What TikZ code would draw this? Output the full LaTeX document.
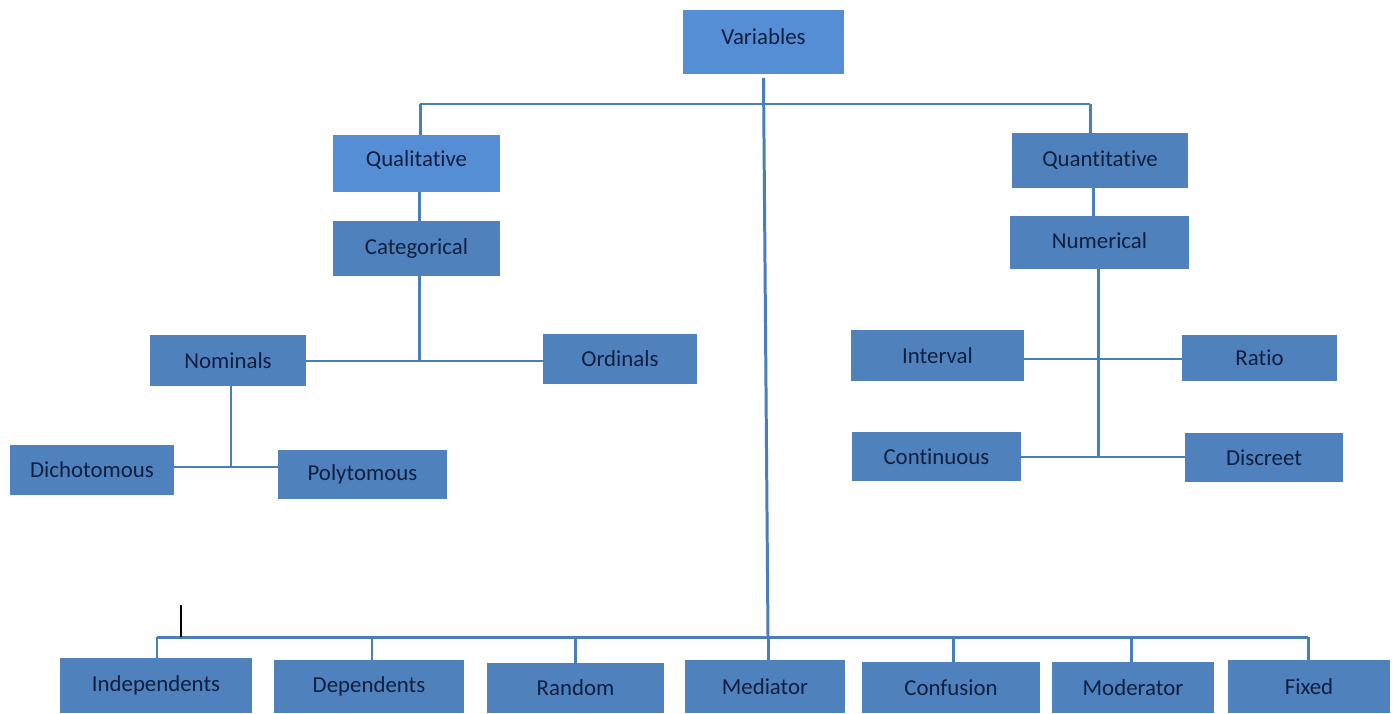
\documentclass[tikz,border=0pt]{standalone}
\usepackage{fontspec}
\setmainfont[Ligatures={NoCommon}]{Carlito}
\definecolor{boxblue}{HTML}{4F81BD}
\definecolor{lightblue}{HTML}{558ED5}
\definecolor{linecol}{HTML}{4A7EBB}
\definecolor{navy}{HTML}{0F1F3F}
\tikzset{
  box/.style={fill=boxblue, inner sep=0pt, text=navy, font=\fontsize{13}{15}\selectfont},
  lbox/.style={box, fill=lightblue},
  conn/.style={draw=linecol, line width=1.7pt},
}
\newcommand\bx[7]{\node[#7, minimum width={(#4-#2)*0.02cm}, minimum height={(#5-#3)*0.02cm}] (#1) at ({(#2+#4)/2},{(#3+#5)/2}) {#6};}
\begin{document}
\begin{tikzpicture}[x=0.02cm,y=-0.02cm]
\useasboundingbox[fill=white] (0,0) rectangle (1395,713);
% nodes
\bx{var}{683}{10}{844}{74}{\raisebox{0.22cm}{Variables}}{lbox}
\bx{qual}{333}{135}{500}{192}{\raisebox{0.18cm}{Qualitative}}{lbox}
\bx{quan}{1012}{133}{1188}{188}{\raisebox{0.08cm}{Quantitative}}{box}
\bx{cat}{333}{221}{500}{276}{\raisebox{0.08cm}{Categorical}}{box}
\bx{num}{1010}{216}{1189}{269}{\raisebox{0.06cm}{Numerical}}{box}
\bx{nom}{150}{335}{306}{386}{Nominals}{box}
\bx{ord}{543}{334}{697}{384}{Ordinals}{box}
\bx{dich}{10}{445}{174}{495}{Dichotomous}{box}
\bx{poly}{278}{450}{447}{499}{Polytomous}{box}
\bx{int}{851}{330}{1024}{381}{Interval}{box}
\bx{ratio}{1182}{335}{1337}{381}{\raisebox{-0.06cm}{Ratio}}{box}
\bx{cont}{852}{432}{1021}{481}{Continuous}{box}
\bx{disc}{1185}{433}{1343}{482}{Discreet}{box}
\bx{ind}{60}{658}{252}{713}{\raisebox{0.04cm}{Independents}}{box}
\bx{dep}{274}{660}{464}{713}{\raisebox{0.02cm}{Dependents}}{box}
\bx{rand}{487}{663}{664}{713}{Random}{box}
\bx{med}{685}{660}{845}{713}{Mediator}{box}
\bx{conf}{862}{662}{1040}{713}{Confusion}{box}
\bx{mod}{1052}{662}{1214}{713}{Moderator}{box}
\bx{fix}{1228}{660}{1390}{713}{Fixed}{box}
% top bus
\coordinate (tl) at (420,104);
\coordinate (tr) at (1090,104);
\draw[conn] (tl) -- (tr);
\draw[conn] (tl) -- (tl |- qual.north);
\draw[conn] (tr) -- (tr |- quan.north);
% main vertical and bottom bus
\coordinate (bm) at (768,637);
\draw[conn] ([yshift=-2pt]var.south) -- (bm);
\coordinate (bl) at (157,637);
\coordinate (br) at (1308,637);
\draw[conn] (bl) -- (br);
\draw[conn] (bl) -- (bl |- ind.north);
\draw[conn] (372,637) -- (372,637 |- dep.north);
\draw[conn] (575,637) -- (575,637 |- rand.north);
\draw[conn] (bm) -- (bm |- med.north);
\draw[conn] (953,637) -- (953,637 |- conf.north);
\draw[conn] (1131,637) -- (1131,637 |- mod.north);
\draw[conn] (br) -- (br |- fix.north);
% qualitative branch
\coordinate (cj) at (419,361);
\draw[conn] (cj |- qual.south) -- (cj |- cat.north);
\draw[conn] (cj |- cat.south) -- (cj);
\draw[conn] (nom.east |- cj) -- (ord.west |- cj);
\coordinate (nj) at (231,467);
\draw[conn] (nj |- nom.south) -- (nj);
\draw[conn] (dich.east |- nj) -- (poly.west |- nj);
% quantitative branch
\coordinate (qn) at (1093,200);
\draw[conn] (qn |- quan.south) -- (qn |- num.north);
\coordinate (qj) at (1098,457);
\draw[conn] (qj |- num.south) -- (qj);
\draw[conn] (int.east |- 0,359) -- (ratio.west |- 0,359);
\draw[conn] (cont.east |- qj) -- (disc.west |- qj);
% cursor mark
\draw[black, line width=0.6pt] (181,605) -- (181,637);
\end{tikzpicture}
\end{document}
